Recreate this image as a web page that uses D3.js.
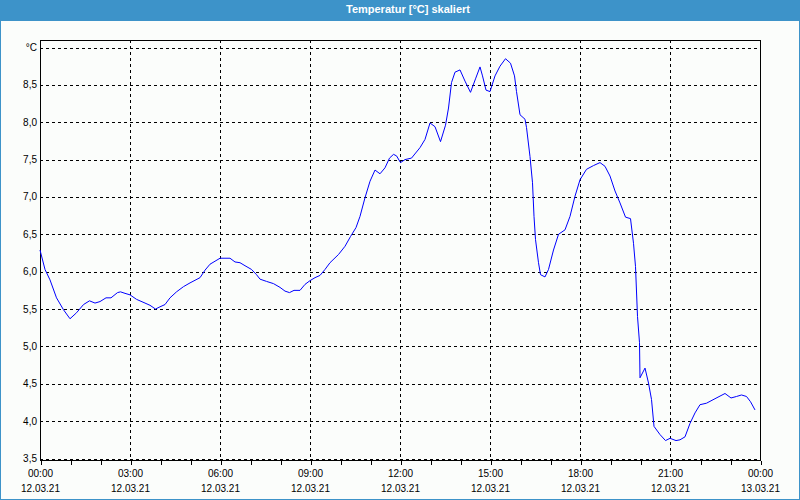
<!DOCTYPE html>
<html>
<head>
<meta charset="utf-8">
<script src="https://cdn.jsdelivr.net/npm/d3@7"></script>
<style>
  html, body { margin: 0; padding: 0; background: #fbfdfb; }
  svg { display: block; }
  text { font-family: "Liberation Sans", Arial, sans-serif; }
</style>
</head>
<body>
<svg id="chart" width="800" height="500"></svg>
<script>
// ---- data ----
const titleText = "Temperatur [°C] skaliert";
// minutes after 12.03.21 00:00
const minutes = [0,10,20,33,47,60,73,87,99,110,120,132,142,155,161,170,180,193,210,220,231,240,250,260,273,287,300,320,330,340,350,360,380,390,400,410,423,433,440,453,467,480,490,499,508,520,530,540,550,560,570,580,597,610,621,632,640,650,660,670,680,690,699,707,713,721,730,743,760,770,780,790,801,811,817,823,830,840,850,861,871,880,885,892,900,910,920,931,941,949,953,960,970,973,980,985,988,991,997,1001,1010,1017,1027,1037,1050,1060,1070,1080,1093,1107,1120,1130,1140,1150,1160,1171,1181,1187,1191,1195,1199,1200,1210,1217,1223,1228,1240,1251,1260,1272,1280,1290,1300,1310,1320,1333,1350,1370,1382,1393,1403,1413,1421,1430];
const temperature = [6.29,6.03,5.89,5.65,5.49,5.37,5.45,5.56,5.61,5.58,5.60,5.65,5.65,5.72,5.73,5.71,5.69,5.63,5.58,5.55,5.50,5.53,5.56,5.65,5.73,5.80,5.85,5.92,6.02,6.10,6.14,6.18,6.18,6.13,6.12,6.08,6.03,5.96,5.90,5.87,5.84,5.79,5.74,5.72,5.75,5.75,5.83,5.88,5.92,5.95,6.03,6.12,6.23,6.34,6.47,6.59,6.74,6.99,7.21,7.36,7.31,7.39,7.52,7.57,7.55,7.46,7.50,7.52,7.66,7.77,7.99,7.94,7.74,7.96,8.19,8.53,8.67,8.70,8.55,8.40,8.58,8.74,8.62,8.43,8.41,8.62,8.75,8.85,8.79,8.62,8.41,8.10,8.04,7.93,7.54,7.19,6.74,6.43,6.12,5.96,5.93,6.03,6.29,6.50,6.56,6.74,7.01,7.23,7.37,7.42,7.46,7.41,7.28,7.08,6.92,6.73,6.71,6.38,6.07,5.40,5.05,4.58,4.71,4.51,4.29,3.93,3.82,3.74,3.77,3.74,3.75,3.79,3.97,4.11,4.22,4.24,4.30,4.37,4.31,4.33,4.35,4.33,4.26,4.15];
const yTickValues = [3.5,4.0,4.5,5.0,5.5,6.0,6.5,7.0,7.5,8.0,8.5,9.0];
const yTickLabels = ["3,5","4,0","4,5","5,0","5,5","6,0","6,5","7,0","7,5","8,0","8,5","°C"];
const xLabelHours = [0,3,6,9,12,15,18,21,24];
const xTimeLabels = ["00:00","03:00","06:00","09:00","12:00","15:00","18:00","21:00","00:00"];
const xDateLabels = ["12.03.21","12.03.21","12.03.21","12.03.21","12.03.21","12.03.21","12.03.21","12.03.21","13.03.21"];

(function () {
// ---- layout ----
const W = 800, H = 500;
const pLeft = 40, pRight = 760, pTop = 40, pBottom = 460;
const blue = "#3d93c9";
const start = new Date(2021, 2, 12, 0, 0);
const end = new Date(2021, 2, 13, 0, 0);
const toDate = m => new Date(start.getTime() + m * 60000);

const svg = d3.select("#chart");
const x = d3.scaleTime().domain([start, end]).range([pLeft, pRight]);
const y = d3.scaleLinear().domain([3.5, 9.0]).range([458.5, 47.5]);
const px = v => Math.round(v) + 0.5;

// background
svg.append("rect").attr("x", 0).attr("y", 0).attr("width", W).attr("height", H).attr("fill", "#fbfdfb");
// title bar
svg.append("rect").attr("x", 0).attr("y", 0).attr("width", W).attr("height", 21).attr("fill", blue);
svg.append("text").attr("x", 408).attr("y", 13).attr("text-anchor", "middle")
  .attr("fill", "#ffffff").attr("font-size", "11px").attr("font-weight", "bold").text(titleText);
// outer border
svg.append("rect").attr("x", 0.5).attr("y", 0.5).attr("width", W - 1).attr("height", H - 1)
  .attr("fill", "none").attr("stroke", blue).attr("stroke-width", 1);

// grid: horizontal
const g = svg.append("g").attr("shape-rendering", "crispEdges");
g.selectAll("line.hg").data(yTickValues).join("line").attr("class", "hg")
  .attr("x1", pLeft).attr("x2", pRight)
  .attr("y1", d => px(y(d))).attr("y2", d => px(y(d)))
  .attr("stroke", "#000").attr("stroke-dasharray", "3,3");
// grid: vertical every 3 hours
const vHours = xLabelHours.filter(h => h > 0 && h < 24);
g.selectAll("line.vg").data(vHours).join("line").attr("class", "vg")
  .attr("x1", h => px(x(toDate(h * 60)))).attr("x2", h => px(x(toDate(h * 60))))
  .attr("y1", pTop).attr("y2", pBottom)
  .attr("stroke", "#000").attr("stroke-dasharray", "3,3");

// hourly ticks via axis
const xAxis = d3.axisBottom(x).ticks(d3.timeHour.every(1)).tickSize(4).tickFormat("");
const ax = svg.append("g").attr("transform", `translate(0.5,${pBottom + 0.5})`).attr("shape-rendering", "crispEdges").call(xAxis);
ax.select(".domain").remove();
ax.selectAll("line").attr("stroke", "#000");

// frame
svg.append("rect").attr("x", pLeft + 0.5).attr("y", pTop + 0.5).attr("width", pRight - pLeft).attr("height", pBottom - pTop)
  .attr("fill", "none").attr("stroke", "#000").attr("shape-rendering", "crispEdges");

// y labels
svg.selectAll("text.yl").data(yTickValues).join("text").attr("class", "yl")
  .attr("x", 37).attr("y", d => y(d) + 3.5).attr("text-anchor", "end")
  .attr("font-size", "10px").attr("fill", "#000")
  .text((d, i) => yTickLabels[i]);

// x labels
svg.selectAll("text.xt").data(xLabelHours).join("text").attr("class", "xt")
  .attr("x", h => x(toDate(h * 60)) + 0.5).attr("y", 477).attr("text-anchor", "middle")
  .attr("font-size", "10px").attr("fill", "#000")
  .text((d, i) => xTimeLabels[i]);
svg.selectAll("text.xd").data(xLabelHours).join("text").attr("class", "xd")
  .attr("x", h => x(toDate(h * 60)) + 0.5).attr("y", 492).attr("text-anchor", "middle")
  .attr("font-size", "10px").attr("fill", "#000")
  .text((d, i) => xDateLabels[i]);

// series line
const pts = minutes.map((m, i) => [toDate(m), temperature[i]]);
const line = d3.line().x(d => x(d[0])).y(d => y(d[1]));
svg.append("path").datum(pts).attr("d", line)
  .attr("fill", "none").attr("stroke", "#0000ff").attr("stroke-width", 1);
})();
</script>
</body>
</html>
